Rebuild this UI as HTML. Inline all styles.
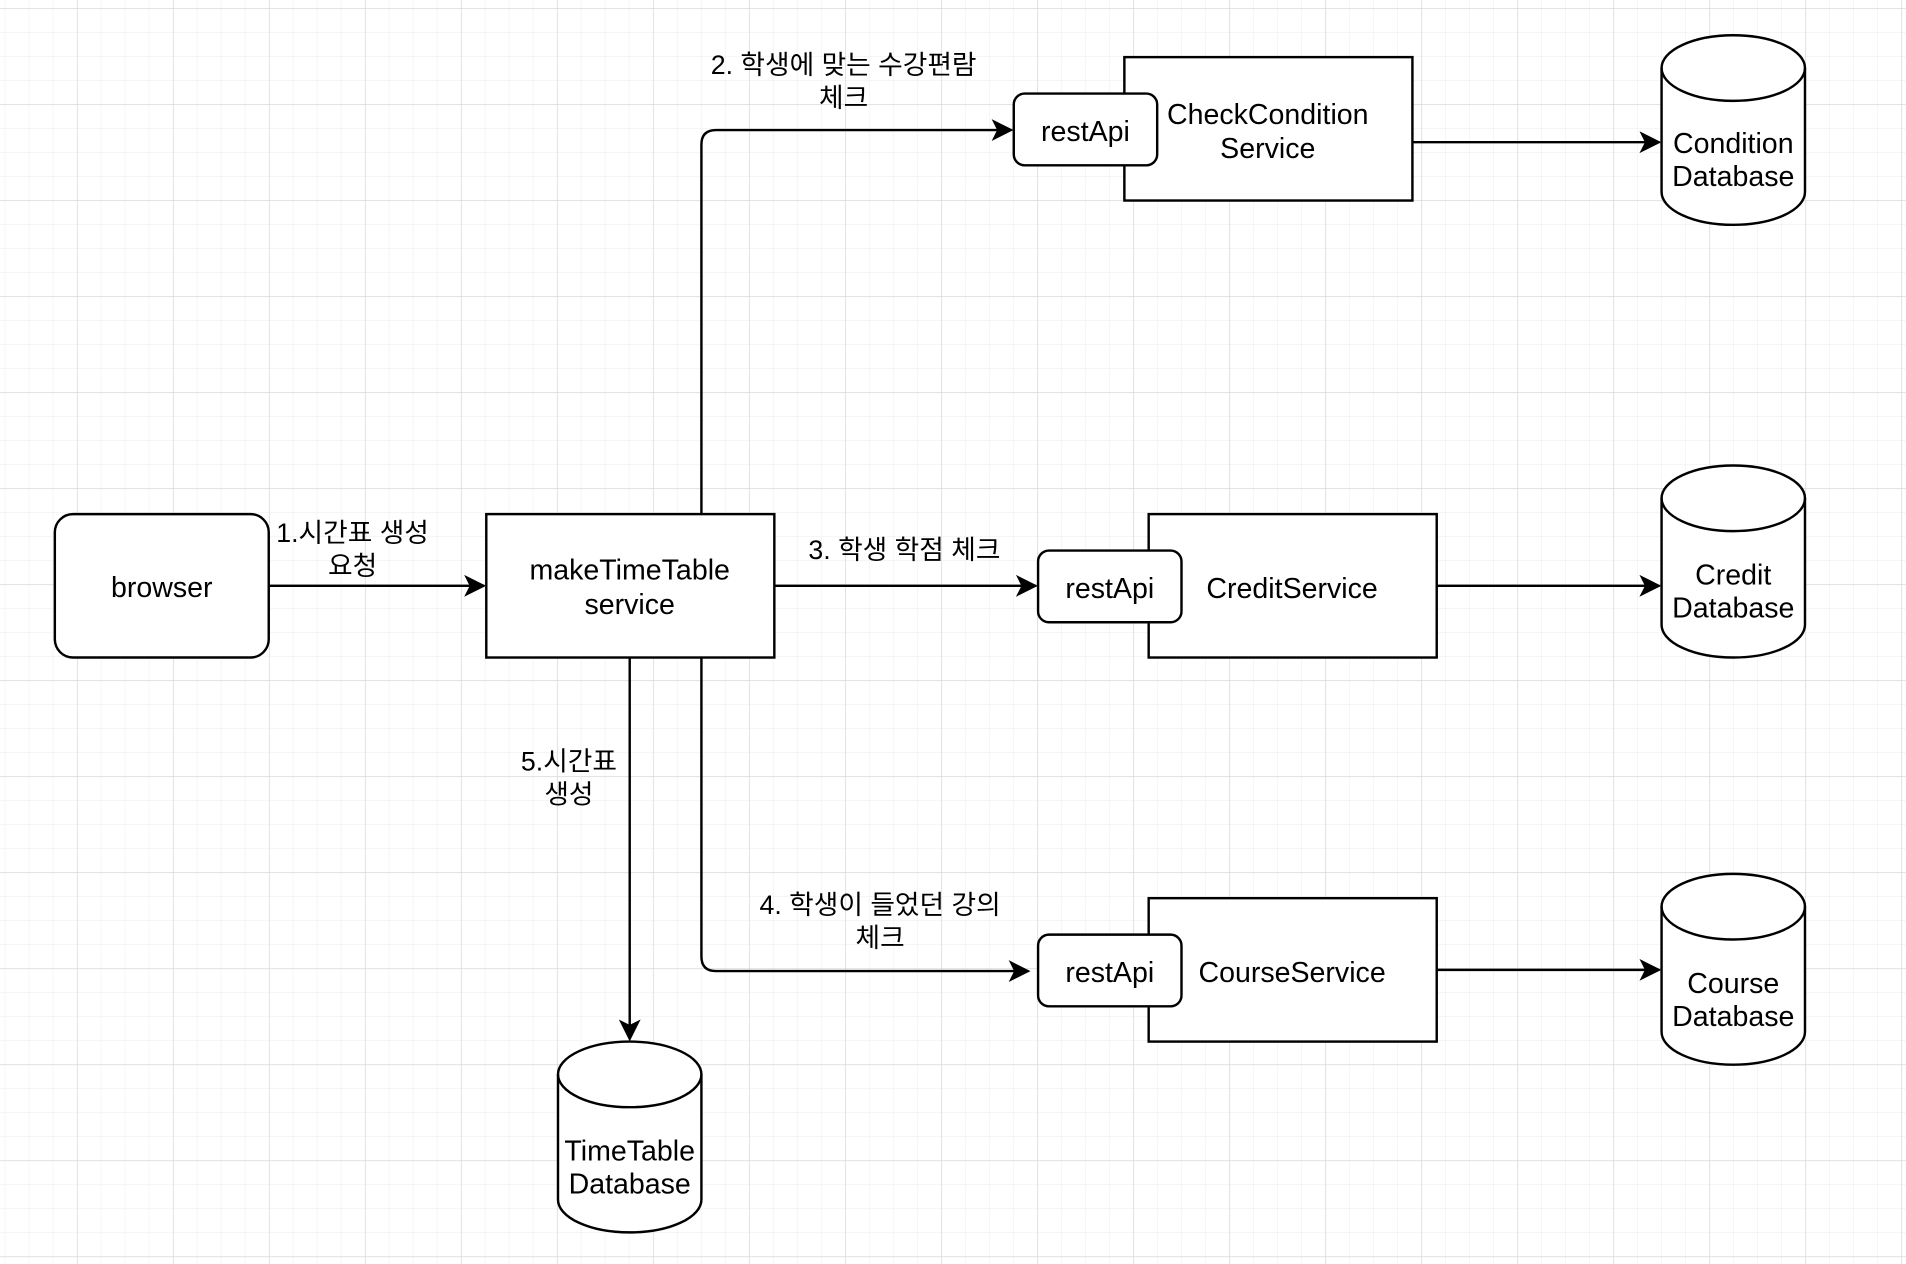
<!DOCTYPE html>
<html><head><meta charset="utf-8"><style>
html,body{margin:0;padding:0;background:#fff;}
svg{display:block;}
text{font-family:"Liberation Sans","Noto Sans CJK KR",sans-serif;fill:#000;}
</style></head><body>
<svg width="1906" height="1264" viewBox="0 0 1568 1040" xmlns="http://www.w3.org/2000/svg">
<defs>
<pattern id="minor" x="3.8" y="6.7" width="19.75" height="19.75" patternUnits="userSpaceOnUse">
<path d="M0 0H19.75M0 0V19.75" stroke="#efefef" stroke-width="1" fill="none"/>
</pattern>
<pattern id="major" x="63.3" y="6.7" width="79" height="79" patternUnits="userSpaceOnUse">
<path d="M0 0H79M0 0V79" stroke="#d6d6d6" stroke-width="1" fill="none"/>
</pattern>
<marker id="ar" viewBox="0 0 10 10" refX="9" refY="5" markerWidth="18" markerHeight="18" markerUnits="userSpaceOnUse" orient="auto">
<path d="M0 0L10 5L0 10L2.5 5Z" fill="#000"/>
</marker>
</defs>
<rect width="1568" height="1040" fill="#fff"/>
<rect width="1568" height="1040" fill="url(#minor)"/>
<rect width="1568" height="1040" fill="url(#major)"/>

<g stroke="#000" stroke-width="2" fill="none">
<path d="M221 482H398" marker-end="url(#ar)"/>
<path d="M577 423V119Q577 107 589 107H832" marker-end="url(#ar)"/>
<path d="M637 482H852" marker-end="url(#ar)"/>
<path d="M577 541V787Q577 799 589 799H846" marker-end="url(#ar)"/>
<path d="M518 541V855" marker-end="url(#ar)"/>
<path d="M1162 117H1365" marker-end="url(#ar)"/>
<path d="M1182 482H1365" marker-end="url(#ar)"/>
<path d="M1182 798H1365" marker-end="url(#ar)"/>
</g>

<g stroke="#000" stroke-width="2" fill="#fff">
<rect x="45" y="423" width="176" height="118" rx="15"/>
<rect x="400" y="423" width="237" height="118"/>
<rect x="925" y="47" width="237" height="118"/>
<rect x="834" y="77" width="118" height="59" rx="9"/>
<rect x="945" y="423" width="237" height="118"/>
<rect x="854" y="453" width="118" height="59" rx="9"/>
<rect x="945" y="739" width="237" height="118"/>
<rect x="854" y="769" width="118" height="59" rx="9"/>
</g>

<g stroke="#000" stroke-width="2" fill="#fff">
<path d="M1367 56A59 27 0 0 1 1485 56V158A59 27 0 0 1 1367 158Z"/>
<path d="M1367 56A59 27 0 0 0 1485 56" fill="none"/>
<path d="M1367 410A59 27 0 0 1 1485 410V514A59 27 0 0 1 1367 514Z"/>
<path d="M1367 410A59 27 0 0 0 1485 410" fill="none"/>
<path d="M1367 746A59 27 0 0 1 1485 746V849A59 27 0 0 1 1367 849Z"/>
<path d="M1367 746A59 27 0 0 0 1485 746" fill="none"/>
<path d="M459 884A59 27 0 0 1 577 884V987A59 27 0 0 1 459 987Z"/>
<path d="M459 884A59 27 0 0 0 577 884" fill="none"/>
</g>

<g font-size="23.5" text-anchor="middle">
<text x="133" y="491">browser</text>
<text x="518" y="477">makeTimeTable</text>
<text x="518" y="505">service</text>
<text x="893" y="116">restApi</text>
<text x="1043" y="102">CheckCondition</text>
<text x="1043" y="130">Service</text>
<text x="913" y="492">restApi</text>
<text x="1063" y="492">CreditService</text>
<text x="913" y="808">restApi</text>
<text x="1063" y="808">CourseService</text>
<text x="1426" y="126">Condition</text>
<text x="1426" y="153">Database</text>
<text x="1426" y="481">Credit</text>
<text x="1426" y="508">Database</text>
<text x="1426" y="817">Course</text>
<text x="1426" y="844">Database</text>
<text x="518" y="955">TimeTable</text>
<text x="518" y="982">Database</text>
</g>
<g font-size="22" text-anchor="middle">
<text x="290" y="446">1.시간표 생성</text>
<text x="290" y="473">요청</text>
<text x="694" y="61">2. 학생에 맞는 수강편람</text>
<text x="694" y="88">체크</text>
<text x="744" y="460">3. 학생 학점 체크</text>
<text x="724" y="752">4. 학생이 들었던 강의</text>
<text x="724" y="779">체크</text>
<text x="468" y="634">5.시간표</text>
<text x="468" y="661">생성</text>
</g>
</svg>
</body></html>
